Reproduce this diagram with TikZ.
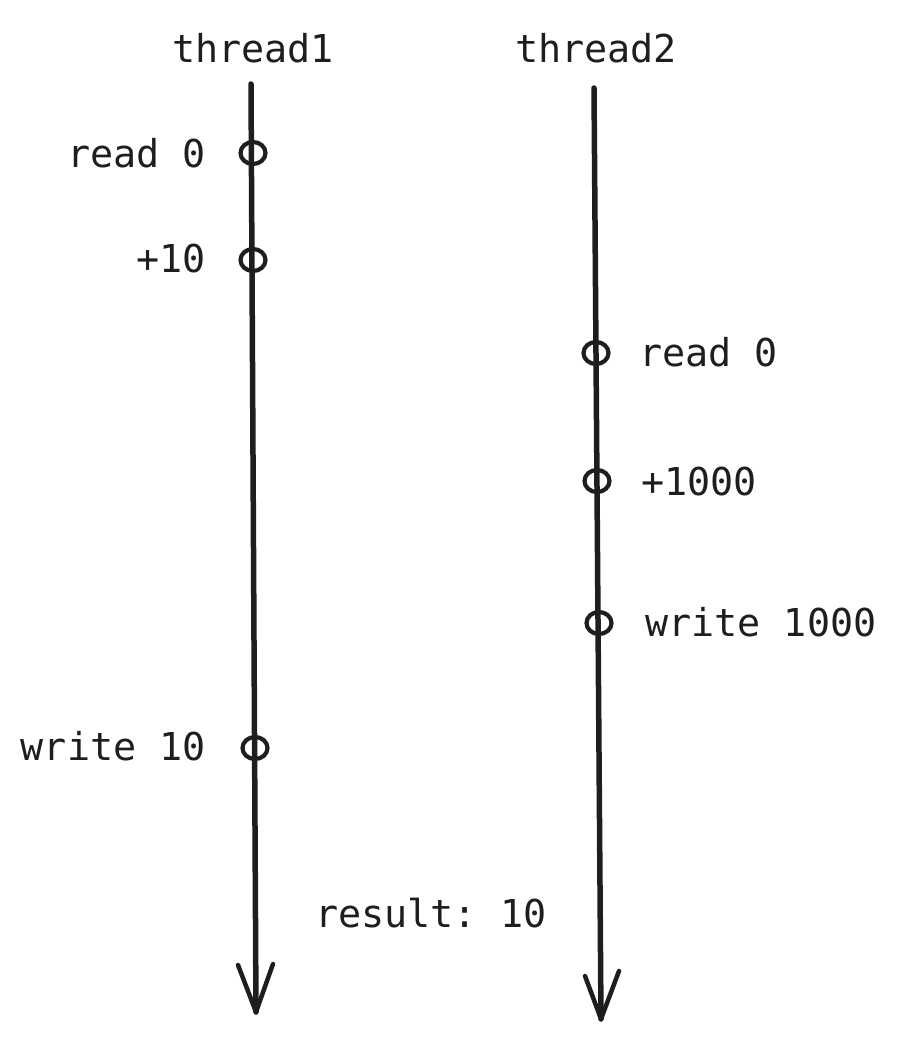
\documentclass[tikz,border=0pt]{standalone}
\usepackage{fontspec}
\setmonofont{DejaVu Sans Mono}
\usetikzlibrary{shapes.geometric}
\definecolor{ink}{HTML}{1E1E1E}
\tikzset{
  thread/.style={draw=ink, line width=5.5pt, line cap=round},
  barb/.style={draw=ink, line width=4.5pt, line cap=round, line join=round},
  event/.style={draw=ink, line width=4.2pt, ellipse, minimum width=25pt, minimum height=22pt, inner sep=0pt, fill=none},
  lbl/.style={text=ink, inner sep=0pt, font=\ttfamily\fontsize{38.4}{44}\selectfont},
}
\begin{document}
\begin{tikzpicture}[x=1pt,y=-1pt]
\useasboundingbox (0,0) rectangle (898,1039);
% thread lines
\coordinate (t1top) at (251,84);
\coordinate (t1bot) at (256,1012);
\coordinate (t1wl) at (238,965);
\coordinate (t1wr) at (273,964);
\coordinate (t2top) at (594,88);
\coordinate (t2bot) at (601,1019);
\coordinate (t2wl) at (585,976);
\coordinate (t2wr) at (619,971);
\draw[thread] (t1top) -- (t1bot);
\draw[barb] (t1wl) -- (t1bot) -- (t1wr);
\draw[thread] (t2top) -- (t2bot);
\draw[barb] (t2wl) -- (t2bot) -- (t2wr);
% titles
\node[lbl, anchor=base] (h1) at (253,62) {thread1};
\node[lbl, anchor=base] (h2) at (596,62) {thread2};
% events thread1
\node[event] (e1) at (253,153) {};
\node[event] (e2) at (253,260) {};
\node[event] (e3) at (255,748) {};
\node[lbl, anchor=base east] (l1) at (206,167) {read 0};
\node[lbl, anchor=base east] (l2) at (206,272) {+10};
\node[lbl, anchor=base east] (l3) at (206,760) {write 10};
% events thread2
\node[event] (f1) at (596,353) {};
\node[event] (f2) at (597,481) {};
\node[event] (f3) at (599,623) {};
\node[lbl, anchor=base west] (m1) at (639,366) {read 0};
\node[lbl, anchor=base west] (m2) at (641,495) {+1000};
\node[lbl, anchor=base west] (m3) at (645,636) {write 1000};
% result
\node[lbl, anchor=base west] (res) at (315,927) {result: 10};
\end{tikzpicture}
\end{document}
